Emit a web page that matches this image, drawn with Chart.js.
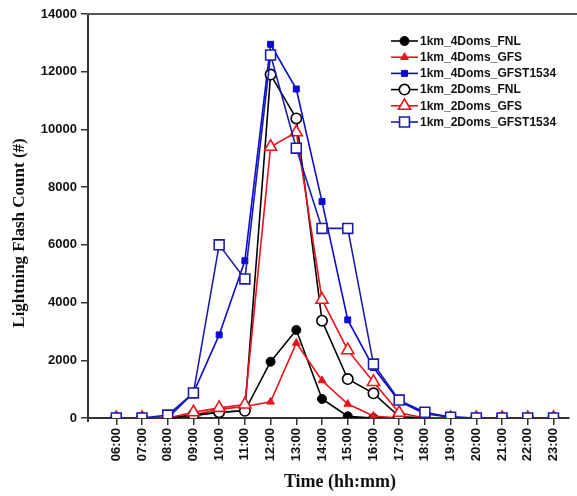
<!DOCTYPE html>
<html>
<head>
<meta charset="utf-8">
<script src="https://cdn.jsdelivr.net/npm/chart.js@4.4.1/dist/chart.umd.min.js"></script>
<style>
  html, body { margin: 0; padding: 0; background: #fff; overflow: hidden; }
  #wrap { width: 577px; height: 496px; position: relative; }
</style>
</head>
<body>
<div id="wrap"><canvas id="c" width="577" height="496"></canvas></div>
<script>
// Hourly lightning flash counts, 06:00 - 23:00
const timeLabels = ['06:00','07:00','08:00','09:00','10:00','11:00','12:00','13:00','14:00',
                    '15:00','16:00','17:00','18:00','19:00','20:00','21:00','22:00','23:00'];
const hours = [6,7,8,9,10,11,12,13,14,15,16,17,18,19,20,21,22,23];

const fnl4Doms   = [0,0,0,80,200,250,1950,3050,660,60,0,0,0,0,0,0,0,0];
const gfs4Doms   = [0,0,0,100,300,400,560,2600,1300,485,70,0,0,0,0,0,0,0];
const gfst4Doms  = [0,0,0,870,2880,5450,12950,11400,7500,3400,1750,580,150,30,0,0,0,0];
const fnl2Doms   = [0,0,0,100,200,250,11900,10380,3370,1350,855,50,0,0,0,0,0,0];
const gfs2Doms   = [0,0,0,200,350,470,9400,9900,4100,2350,1250,180,0,0,0,0,0,0];
const gfst2Doms  = [0,0,100,870,6000,4820,12580,9350,6570,6570,1870,620,200,30,0,0,0,0];

const yTicks = [0,2000,4000,6000,8000,10000,12000,14000];

const BLACK = '#000000', RED = '#e8141c', BLUE = '#0a0ad2', NAVY = '#1c1caa';

function series(label, values, color, style, radius, open, idx) {
  return {
    label: label,
    data: values.map((v, i) => ({ x: hours[i], y: v })),
    borderColor: color,
    borderWidth: 1.6,
    pointStyle: style,
    pointRadius: radius,
    pointHoverRadius: radius,
    pointBorderWidth: open ? 1.6 : 1,
    pointBorderColor: color,
    pointBackgroundColor: open ? '#ffffff' : color,
    tension: 0,
    order: -idx,            // later series are painted over earlier ones
    clip: { left: 8, top: 8, right: 8, bottom: 0 }
  };
}

const datasets = [
  series('1km_4Doms_FNL', fnl4Doms, BLACK, 'circle', 4.5, false, 0),
  series('1km_4Doms_GFS', gfs4Doms, RED, 'triangle', 4.5, false, 1),
  series('1km_4Doms_GFST1534', gfst4Doms, BLUE, 'rect', 4.2, false, 2),
  series('1km_2Doms_FNL', fnl2Doms, BLACK, 'circle', 5.2, true, 3),
  series('1km_2Doms_GFS', gfs2Doms, RED, 'triangle', 7, true, 4),
  series('1km_2Doms_GFST1534', gfst2Doms, NAVY, 'rect', 7, true, 5)
];

// Top frame line, axis titles and the line+marker legend
const decorations = {
  id: 'decorations',
  afterDraw(chart) {
    const ctx = chart.ctx;
    const a = chart.chartArea;
    ctx.save();
    ctx.strokeStyle = '#555';
    ctx.lineWidth = 2;
    ctx.beginPath();
    ctx.moveTo(a.left - 1, a.top);
    ctx.lineTo(chart.width, a.top);
    ctx.stroke();

    // y axis runs a little past the x axis
    ctx.strokeStyle = '#333';
    ctx.beginPath();
    ctx.moveTo(a.left, a.bottom);
    ctx.lineTo(a.left, a.bottom + 4);
    ctx.stroke();

    ctx.fillStyle = '#111';
    ctx.font = 'bold 18px "Liberation Serif", "Times New Roman", serif';
    ctx.textAlign = 'center';
    ctx.textBaseline = 'middle';
    ctx.fillText('Time (hh:mm)', 340, 482);

    ctx.save();
    ctx.translate(20, 233);
    ctx.rotate(-Math.PI / 2);
    ctx.font = 'bold 17px "Liberation Serif", "Times New Roman", serif';
    ctx.fillText('Lightning Flash Count (#)', 0, 0);
    ctx.restore();

    // legend
    const x0 = 391, x1 = 418, y0 = 41, dy = 16.2;
    ctx.font = 'bold 12px "Liberation Sans", Arial, sans-serif';
    ctx.textAlign = 'left';
    chart.data.datasets.forEach((ds, i) => {
      const y = y0 + i * dy;
      ctx.strokeStyle = ds.borderColor;
      ctx.lineWidth = 1.6;
      ctx.beginPath();
      ctx.moveTo(x0, y);
      ctx.lineTo(x1, y);
      ctx.stroke();
      ctx.fillStyle = ds.pointBackgroundColor;
      ctx.strokeStyle = ds.pointBorderColor;
      ctx.lineWidth = ds.pointBorderWidth;
      Chart.helpers.drawPoint(ctx, {
        pointStyle: ds.pointStyle,
        radius: ds.pointRadius,
        rotation: 0,
        borderWidth: ds.pointBorderWidth
      }, (x0 + x1) / 2, y);
      ctx.fillStyle = '#111';
      ctx.fillText(ds.label, x1 + 2, y + 0.5);
    });
    ctx.restore();
  }
};

new Chart(document.getElementById('c'), {
  type: 'line',
  data: { datasets: datasets },
  options: {
    responsive: false,
    animation: false,
    events: [],
    layout: { padding: { top: 14, right: 0, left: 0, bottom: 0 } },
    plugins: { legend: { display: false }, tooltip: { enabled: false }, title: { display: false } },
    scales: {
      x: {
        type: 'linear',
        min: 4.9,
        max: 23.58,
        afterFit(scale) { scale.height = 78; },
        afterBuildTicks(scale) { scale.ticks = hours.map(h => ({ value: h })); },
        ticks: {
          autoSkip: false,
          minRotation: 90,
          maxRotation: 90,
          padding: 3,
          color: '#111',
          font: { family: '"Liberation Sans", Arial, sans-serif', size: 13, weight: 'bold' },
          callback: (v) => timeLabels[hours.indexOf(v)]
        },
        grid: { drawOnChartArea: false, drawTicks: true, tickLength: 7, color: '#333', lineWidth: 1.5 },
        border: { display: true, color: '#333', width: 2 }
      },
      y: {
        type: 'linear',
        min: 0,
        max: 14000,
        afterFit(scale) { scale.width = 88; },
        afterBuildTicks(scale) { scale.ticks = yTicks.map(v => ({ value: v })); },
        ticks: {
          padding: 4,
          color: '#111',
          font: { family: '"Liberation Sans", Arial, sans-serif', size: 13, weight: 'bold' },
          callback: (v) => String(v)
        },
        grid: { drawOnChartArea: false, drawTicks: true, tickLength: 7, color: '#333', lineWidth: 1.5 },
        border: { display: true, color: '#333', width: 2 }
      }
    }
  },
  plugins: [decorations]
});
</script>
</body>
</html>
